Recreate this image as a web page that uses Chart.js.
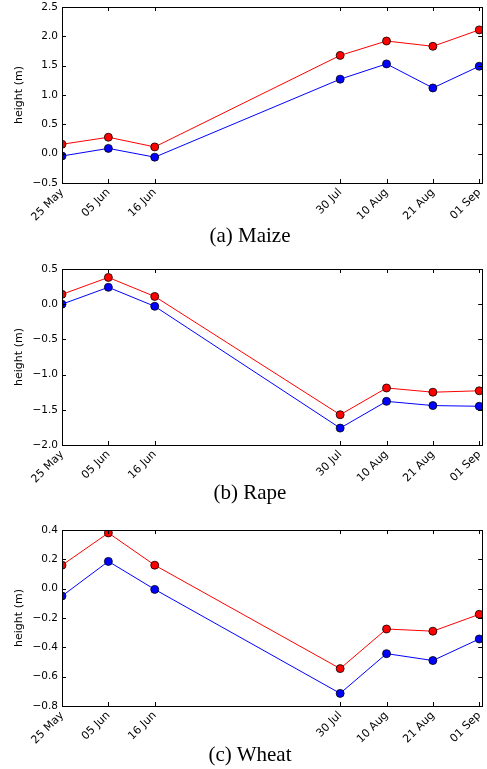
<!DOCTYPE html>
<html>
<head>
<meta charset="utf-8">
<script src="https://cdn.jsdelivr.net/npm/chart.js@4"></script>
<style>
  body { margin: 0; background: #fff; width: 487px; height: 769px; position: relative; overflow: hidden; }
  canvas { position: absolute; left: 0; }
  .cap { position: absolute; left: 150px; width: 200px; text-align: center;
         font-family: "Liberation Serif", "DejaVu Serif", serif; font-size: 21px; line-height: 22px; color: #000; }
</style>
</head>
<body>
<canvas id="maizeChart" width="487" height="228" style="top:0px"></canvas>
<canvas id="rapeChart" width="487" height="228" style="top:262px"></canvas>
<canvas id="wheatChart" width="487" height="228" style="top:523px"></canvas>
<div class="cap" style="top:224px">(a) Maize</div>
<div class="cap" style="top:481px">(b) Rape</div>
<div class="cap" style="top:743px">(c) Wheat</div>
<script>
/* ---------- DATA ---------- */
const dates = ["25 May", "05 Jun", "16 Jun", "30 Jul", "10 Aug", "21 Aug", "01 Sep"];
const dayOffsets = [0, 11, 22, 66, 77, 88, 99];

const maizeRed  = [0.16, 0.28, 0.115, 1.675, 1.92, 1.83, 2.11];
const maizeBlue = [-0.04, 0.09, -0.06, 1.27, 1.53, 1.12, 1.49];
const maizeTicks = [-0.5, 0.0, 0.5, 1.0, 1.5, 2.0, 2.5];

const rapeRed  = [0.14, 0.38, 0.11, -1.57, -1.19, -1.25, -1.23];
const rapeBlue = [0.0, 0.24, -0.03, -1.76, -1.38, -1.44, -1.45];
const rapeTicks = [-2.0, -1.5, -1.0, -0.5, 0.0, 0.5];

const wheatRed  = [0.16, 0.38, 0.16, -0.545, -0.275, -0.29, -0.175];
const wheatBlue = [-0.05, 0.186, -0.005, -0.714, -0.443, -0.49, -0.343];
const wheatTicks = [-0.8, -0.6, -0.4, -0.2, 0.0, 0.2, 0.4];

const X_MAX = 99.7;

/* ---------- FRAME + INWARD TICKS (matplotlib look) ---------- */
const framePlugin = {
  id: "frame",
  afterDatasetsDraw(chart) {
    const { ctx, chartArea: a, scales } = chart;
    const len = 4;
    ctx.save();
    ctx.strokeStyle = "#000";
    ctx.lineWidth = 1;
    ctx.beginPath();
    scales.x.ticks.forEach(t => {
      const px = Math.round(scales.x.getPixelForValue(t.value)) + 0.5;
      ctx.moveTo(px, a.bottom); ctx.lineTo(px, a.bottom - len);
      ctx.moveTo(px, a.top); ctx.lineTo(px, a.top + len);
    });
    scales.y.ticks.forEach(t => {
      const py = Math.round(scales.y.getPixelForValue(t.value)) + 0.5;
      ctx.moveTo(a.left, py); ctx.lineTo(a.left + len, py);
      ctx.moveTo(a.right, py); ctx.lineTo(a.right - len, py);
    });
    ctx.stroke();
    ctx.strokeRect(Math.round(a.left) + 0.5, Math.round(a.top) + 0.5,
                   Math.round(a.right - a.left), Math.round(a.bottom - a.top));
    ctx.restore();
  }
};

function fmt(v) {
  return v.toFixed(1).replace("-", "\u2212");
}

function series(values, color) {
  return {
    data: values.map((v, i) => ({ x: dayOffsets[i], y: v })),
    borderColor: color,
    backgroundColor: color,
    borderWidth: 1,
    pointRadius: 4,
    pointBorderColor: "#000",
    pointBorderWidth: 0.8,
    pointBackgroundColor: color,
    clip: 0,
    tension: 0
  };
}

function makeChart(id, red, blue, yTicks) {
  return new Chart(document.getElementById(id), {
    type: "line",
    data: { datasets: [series(red, "#ff0000"), series(blue, "#0000ff")] },
    options: {
      responsive: false,
      animation: false,
      layout: { padding: { top: 7, right: 3, left: 0, bottom: 0 } },
      plugins: { legend: { display: false }, tooltip: { enabled: false } },
      scales: {
        x: {
          type: "linear",
          min: 0,
          max: X_MAX,
          afterBuildTicks: s => { s.ticks = dayOffsets.map(v => ({ value: v })); },
          afterFit: s => { s.height = 45; s.paddingLeft = 0; s.paddingRight = 0; },
          grid: { display: false, drawTicks: false },
          border: { display: false },
          ticks: {
            autoSkip: false,
            maxRotation: 45,
            minRotation: 45,
            padding: 3,
            color: "#000",
            font: { family: "DejaVu Sans", size: 11 },
            callback: v => dates[dayOffsets.indexOf(v)]
          }
        },
        y: {
          min: yTicks[0],
          max: yTicks[yTicks.length - 1],
          afterBuildTicks: s => { s.ticks = yTicks.map(v => ({ value: v })); },
          afterFit: s => { s.width = 62; s.paddingTop = 0; s.paddingBottom = 0; },
          grid: { display: false, drawTicks: false },
          border: { display: false },
          title: {
            display: true,
            text: "height (m)",
            color: "#000",
            font: { family: "DejaVu Sans", size: 11 },
            padding: { top: 13, bottom: 0 }
          },
          ticks: {
            padding: 4,
            color: "#000",
            font: { family: "DejaVu Sans", size: 10.5 },
            callback: v => fmt(v)
          }
        }
      }
    },
    plugins: [framePlugin]
  });
}

makeChart("maizeChart", maizeRed, maizeBlue, maizeTicks);
makeChart("rapeChart", rapeRed, rapeBlue, rapeTicks);
makeChart("wheatChart", wheatRed, wheatBlue, wheatTicks);
</script>
</body>
</html>
